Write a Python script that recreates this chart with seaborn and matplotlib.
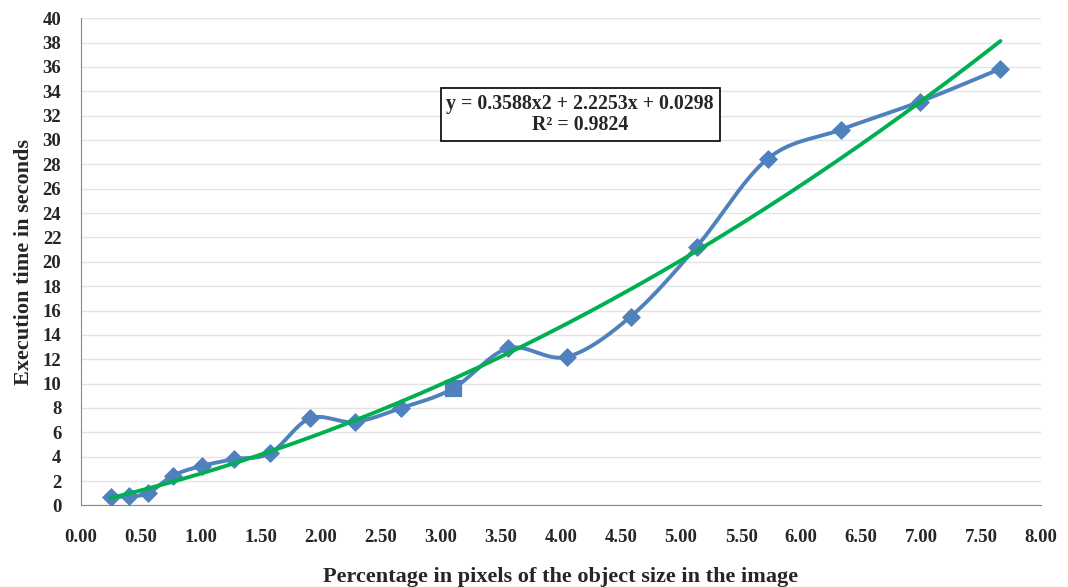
import numpy as np
import pandas as pd
import matplotlib
matplotlib.use("Agg")
import matplotlib.pyplot as plt
import seaborn as sns

# Данные
size_pct = [0.25, 0.40, 0.56, 0.77, 1.01, 1.28, 1.58, 1.91, 2.28, 2.67,
            3.10, 3.56, 4.05, 4.58, 5.13, 5.72, 6.33, 6.99, 7.66]
exec_time = [0.65, 0.75, 1.0, 2.45, 3.25, 3.8, 4.3, 7.15, 6.85, 8.0,
             9.6, 12.9, 12.2, 15.5, 21.25, 28.45, 30.85, 33.15, 35.85]
square_idx = 10  # одна точка отмечена квадратом

# Коэффициенты полиномиального тренда (из подписи на графике)
trend_coef = [0.3588, 2.2253, 0.0298]
trend_label = "y = 0.3588x2 + 2.2253x + 0.0298\nR² = 0.9824"


def excel_smooth(xs, ys, n=30):
    # сглаживание как в Excel: кривые Безье с контрольными точками 1/6
    p = np.column_stack([xs, ys])
    ext = np.vstack([p[0], p, p[-1]])
    out = []
    t = np.linspace(0, 1, n)[:, None]
    for i in range(len(p) - 1):
        p0, p1, p2, p3 = ext[i], ext[i + 1], ext[i + 2], ext[i + 3]
        c1 = p1 + (p2 - p0) / 6
        c2 = p2 - (p3 - p1) / 6
        seg = ((1 - t) ** 3) * p1 + 3 * ((1 - t) ** 2) * t * c1 + 3 * (1 - t) * t ** 2 * c2 + t ** 3 * p2
        out.append(seg if i == 0 else seg[1:])
    seg = np.vstack(out)
    return pd.DataFrame({"x": seg[:, 0], "y": seg[:, 1]})


sns.set_style("white")
plt.rcParams["font.family"] = ["Liberation Serif", "DejaVu Serif"]
plt.rcParams["font.weight"] = "bold"

blue = "#4f81bd"
green = "#00b050"

fig, ax = plt.subplots(figsize=(10.68, 5.87), dpi=100)
fig.subplots_adjust(left=0.0756, right=0.975, top=0.969, bottom=0.139)

smooth = excel_smooth(size_pct, exec_time)
sns.lineplot(data=smooth, x="x", y="y", sort=False, color=blue, lw=2.8, ax=ax, zorder=3)

pts = pd.DataFrame({"x": size_pct, "y": exec_time})
diam = pts.drop(index=square_idx)
sq = pts.loc[[square_idx]]
sns.scatterplot(data=diam, x="x", y="y", marker="D", s=80, color=blue, edgecolor=blue, ax=ax, zorder=4)
sns.scatterplot(data=sq, x="x", y="y", marker="s", s=120, color=blue, edgecolor=blue, ax=ax, zorder=4)

tx = np.linspace(min(size_pct), max(size_pct), 200)
trend = pd.DataFrame({"x": tx, "y": np.polyval(trend_coef, tx)})
sns.lineplot(data=trend, x="x", y="y", color=green, lw=2.8, ax=ax, zorder=5)

ax.text(4.16, 32.1, trend_label, ha="center", va="center", fontsize=14.3, fontweight="bold",
        linespacing=1.05,
        bbox=dict(boxstyle="square,pad=0.3", fc="white", ec="black", lw=1.2), zorder=6)

ax.set_xlim(0, 8)
ax.set_ylim(0, 40)
ax.set_xticks(np.arange(0, 8.01, 0.5))
ax.set_xticklabels([f"{v:.2f}" for v in np.arange(0, 8.01, 0.5)])
ax.set_yticks(np.arange(0, 41, 2))
ax.yaxis.grid(True, color="#e4e4e4", lw=1)
ax.set_axisbelow(True)
for s in ["top", "right"]:
    ax.spines[s].set_visible(False)
for s in ["left", "bottom"]:
    ax.spines[s].set_color("#868686")
ax.tick_params(axis="both", direction="out", length=6, color="#868686", labelsize=13.5)
ax.tick_params(axis="x", pad=11)
ax.tick_params(axis="y", pad=8)
for lab in ax.get_xticklabels() + ax.get_yticklabels():
    lab.set_fontweight("bold")

ax.set_xlabel("Percentage in pixels of the object size in the image", fontsize=16,
              fontweight="bold", labelpad=15)
ax.set_ylabel("Execution time in seconds", fontsize=16, fontweight="bold", labelpad=6)

fig.savefig("out.png", dpi=100)
